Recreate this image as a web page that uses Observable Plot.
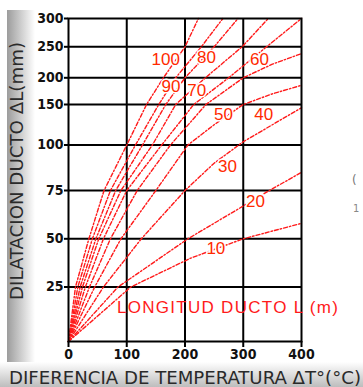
<!DOCTYPE html>
<html><head><meta charset="utf-8">
<script src="https://cdn.jsdelivr.net/npm/d3@7"></script>
<script src="https://cdn.jsdelivr.net/npm/@observablehq/plot@0.6"></script>
<style>
html,body{margin:0;padding:0;background:#fff;}
#chart{width:363px;height:387px;overflow:hidden;}
</style></head><body><div id="chart"></div>
<script>
// ---- data (ΔT in °C, ΔL in mm) ----
const xTicks = [0, 100, 200, 300, 400];
const yTicks = [25, 50, 75, 100, 150, 200, 250, 300];
const xGrid = [100, 200, 300];
const yGrid = [25, 50, 75, 100, 150, 200, 250];
const yDomain = [0, 25, 50, 75, 100, 150, 200, 250, 300];

const L10  = [[0,0],[107,25],[210,40],[300,50],[400,58]];
const L20  = [[0,0],[85,25],[205,50],[345,75],[400,85]];
const L30  = [[0,0],[60,25],[125,50],[200,75],[250,90],[300,104],[350,125],[400,146]];
const L40  = [[0,0],[45,25],[90,50],[150,75],[205,100],[250,125],[300,150],[350,170],[400,186]];
const L50  = [[0,0],[36,25],[72,50],[118,75],[175,100],[236,150],[300,200],[350,222],[400,239]];
const L60  = [[0,0],[29,25],[60,50],[100,75],[160,100],[215,150],[275,200],[340,250],[400,300]];
const L70  = [[0,0],[24,25],[52,50],[90,75],[144,100],[184,150],[235,200],[298,250],[343,300]];
const L80  = [[0,0],[20,25],[47,50],[81,75],[127,100],[167,150],[200,200],[250,250],[291,300]];
const L90  = [[0,0],[16,25],[41,50],[72,75],[115,100],[155,150],[184,200],[228,250],[265,300]];
const L100 = [[0,0],[12,25],[35,50],[61,75],[100,100],[134,150],[163,200],[200,250],[223,300]];
const lengths = [10, 20, 30, 40, 50, 60, 70, 80, 90, 100];
const series = [L10, L20, L30, L40, L50, L60, L70, L80, L90, L100];

const labelText = ["100", "90", "80", "70", "60", "50", "40", "30", "20", "10"];
const labelT    = [167, 176, 237, 220, 328, 266, 335, 273, 321, 253];
const labelMM   = [230, 184, 233, 177, 229, 137, 137, 88, 69.5, 45];

const legendText = "LONGITUD DUCTO L (m)";
const yTitle = "DILATACION DUCTO \u0394L(mm)";
const xTitle = "DIFERENCIA DE TEMPERATURA \u0394T\u00b0(\u00b0C)";

// ---- build tables ----
const rows = [];
series.forEach((s, i) => s.forEach(([t, mm]) => rows.push({L: lengths[i], t, mm})));
const labels = labelText.map((text, i) => ({text, t: labelT[i], mm: labelMM[i]}));

const plot = Plot.plot({
  width: 363, height: 387,
  marginLeft: 68, marginRight: 62, marginTop: 18, marginBottom: 46,
  style: {background: "transparent", fontFamily: "'DejaVu Sans Condensed','DejaVu Sans',sans-serif", fontSize: "14px", color: "#111"},
  x: {domain: [0, 400]},
  y: {type: "linear", domain: yDomain, range: [341, 286.5, 238.3, 190, 144.5, 104, 77.3, 46.3, 18]},
  marks: [
    Plot.gridX(xGrid, {stroke: "#000", strokeOpacity: 1, strokeWidth: 2}),
    Plot.gridY(yGrid, {stroke: "#000", strokeOpacity: 1, strokeWidth: 2}),
    Plot.line(rows, {x: "t", y: "mm", z: "L", stroke: "#ff1a1a", strokeWidth: 1.4, strokeDasharray: "4,2,1.5,2"}),
    Plot.text(labels, {x: "t", y: "mm", text: "text", fill: "#ff2a00", stroke: "white", strokeWidth: 3,
      fontSize: 17, fontFamily: "'Liberation Sans',Arial,sans-serif"}),
    Plot.frame({stroke: "#000", strokeWidth: 2}),
    Plot.axisX({ticks: xTicks, tickSize: 6, tickPadding: 2, label: null, stroke: "#000", strokeWidth: 2,
      fontSize: 14, fontWeight: "bold", fill: "#111"}),
    Plot.axisY({ticks: yTicks, tickSize: 4, tickPadding: 1, label: null, stroke: "#000", strokeWidth: 2,
      fontSize: 14, fontWeight: "bold", fill: "#111"})
  ]
});

const svg = d3.select(plot);
const defs = svg.insert("defs", ":first-child");
const gl = defs.append("linearGradient").attr("id", "gl").attr("x1", 0).attr("x2", 1).attr("y1", 0).attr("y2", 0);
gl.append("stop").attr("offset", "0%").attr("stop-color", "#9c9c9c");
gl.append("stop").attr("offset", "100%").attr("stop-color", "#ffffff");
const gb = defs.append("linearGradient").attr("id", "gb").attr("x1", 0).attr("x2", 0).attr("y1", 0).attr("y2", 1);
gb.append("stop").attr("offset", "0%").attr("stop-color", "#ffffff");
gb.append("stop").attr("offset", "100%").attr("stop-color", "#bdbdbd");
svg.insert("rect", "defs + *").attr("x", 0).attr("y", 362).attr("width", 363).attr("height", 25).attr("fill", "url(#gb)");
svg.insert("rect", "defs + *").attr("x", 7).attr("y", 10).attr("width", 28).attr("height", 377).attr("fill", "url(#gl)");
svg.insert("rect", "defs + *").attr("x", 0).attr("y", 0).attr("width", 363).attr("height", 387).attr("fill", "#fff");

const sx = plot.scale("x");
svg.append("text").text(legendText)
  .attr("x", sx.apply(84)).attr("y", 313).attr("text-anchor", "start")
  .attr("fill", "#ff1a1a").attr("font-size", 17).attr("font-family", "'Liberation Sans',Arial,sans-serif")
  .attr("textLength", 221).attr("lengthAdjust", "spacing");

svg.append("text").text(yTitle)
  .attr("transform", "translate(23,300) rotate(-90)").attr("text-anchor", "start")
  .attr("fill", "#2a2a2a").attr("font-size", 17).attr("font-family", "'DejaVu Sans Condensed','DejaVu Sans',sans-serif")
  .attr("textLength", 258).attr("lengthAdjust", "spacingAndGlyphs");

svg.append("text").text(xTitle)
  .attr("x", 9).attr("y", 384).attr("text-anchor", "start")
  .attr("fill", "#2a2a2a").attr("font-size", 17).attr("font-family", "'DejaVu Sans Condensed','DejaVu Sans',sans-serif")
  .attr("textLength", 352).attr("lengthAdjust", "spacingAndGlyphs");

svg.append("text").text("(").attr("x", 352).attr("y", 184).attr("text-anchor", "start").attr("fill", "#777").attr("font-size", 13);
svg.append("text").text("1").attr("x", 353).attr("y", 212).attr("text-anchor", "start").attr("fill", "#888").attr("font-size", 11);

document.getElementById("chart").appendChild(plot);
</script></body></html>
